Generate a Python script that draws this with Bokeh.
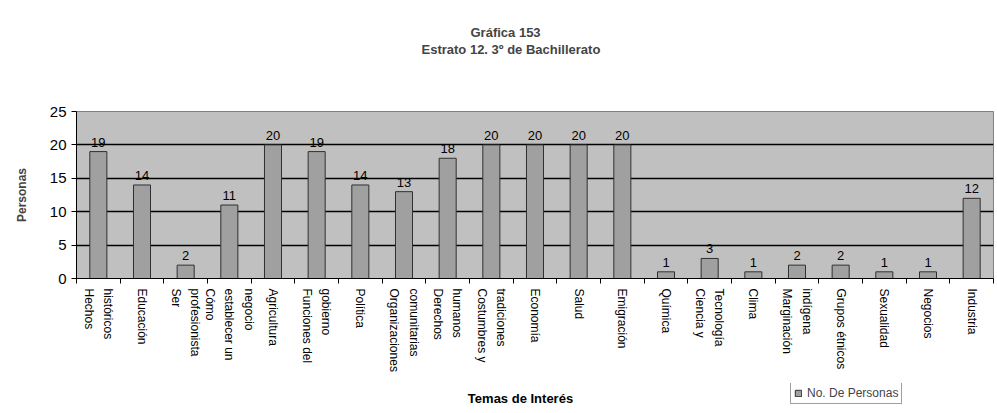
from bokeh.plotting import figure
from bokeh.layouts import column
from bokeh.models import (ColumnDataSource, Range1d, FixedTicker, LabelSet, Title, Legend,
                          LegendItem, Label)
from bokeh.core.properties import value
from bokeh.embed import file_html
from bokeh.resources import INLINE

categories = [
    "Hechos\nhistóricos", "Educación", "Ser\nprofesionista", "Cómo\nestablecer un\nnegocio",
    "Agricultura", "Funciones del\ngobierno", "Política", "Organizaciones\ncomunitarias",
    "Derechos\nhumanos", "Costumbres y\ntradiciones", "Economía", "Salud", "Emigración",
    "Química", "Ciencia y\nTecnología", "Clima", "Marginación\nindígena", "Grupos étnicos",
    "Sexualidad", "Negocios", "Industria",
]
personas = [19, 14, 2, 11, 20, 19, 14, 13, 18, 20, 20, 20, 20, 1, 3, 1, 2, 2, 1, 1, 12]
y_ticks = [0, 5, 10, 15, 20, 25]
series_name = "No. De Personas"
x_title = "Temas de Interés"
y_title = "Personas"
title_1 = "Gráfica 153"
title_2 = "Estrato 12. 3º de Bachillerato"

n = len(categories)
xs = [i + 0.5 for i in range(n)]
source = ColumnDataSource(dict(x=xs, y=personas, lbl=[str(v) for v in personas]))

FONT = "Liberation Sans"
BAR_FILL = "#a0a0a0"
BAR_LINE = "#303030"

p = figure(width=997, height=383, output_backend="svg", toolbar_location=None,
           x_range=Range1d(0, n), y_range=Range1d(0, 25),
           min_border_left=76, min_border_right=4, min_border_top=111, min_border_bottom=105)

p.background_fill_color = "#c0c0c0"
p.border_fill_color = "white"
p.outline_line_color = "#808080"
p.outline_line_width = 1

r = p.vbar(x="x", top="y", width=0.39, source=source, fill_color=BAR_FILL,
           line_color=BAR_LINE, line_width=1)

labels = LabelSet(x="x", y="y", text="lbl", source=source, y_offset=5, text_align="center",
                  text_baseline="bottom", text_font=value(FONT), text_font_size="13px",
                  text_color="black")
p.add_layout(labels)

# grid
p.xgrid.grid_line_color = None
p.ygrid.ticker = FixedTicker(ticks=y_ticks)
p.ygrid.grid_line_color = "black"
p.ygrid.grid_line_width = 1.4

# y axis
p.yaxis.ticker = FixedTicker(ticks=y_ticks)
p.yaxis.axis_label = y_title
p.yaxis.axis_label_text_font = FONT
p.yaxis.axis_label_text_font_style = "bold"
p.yaxis.axis_label_text_font_size = "12px"
p.yaxis.axis_label_standoff = 18
p.yaxis.major_label_text_font = FONT
p.yaxis.major_label_text_font_size = "15px"
p.yaxis.major_label_text_color = "black"
p.yaxis.major_tick_out = 5
p.yaxis.major_tick_in = 0
p.yaxis.minor_tick_line_color = None
p.yaxis.axis_line_color = "black"
p.yaxis.major_tick_line_color = "black"

# x axis (vertical multi-line labels: Bokeh stacks lines right-to-left, so feed them reversed)
p.xaxis.ticker = FixedTicker(ticks=xs, minor_ticks=list(range(n + 1)))
p.xaxis.major_label_overrides = {
    x: "\n".join(reversed(c.split("\n"))) for x, c in zip(xs, categories)
}
p.xaxis.major_label_orientation = "vertical"
p.xaxis.major_label_text_font = FONT
p.xaxis.major_label_text_font_size = "12px"
p.xaxis.major_label_text_line_height = 1.4
p.xaxis.major_label_text_color = "black"
p.xaxis.major_label_standoff = 4
p.xaxis.major_tick_line_color = None
p.xaxis.minor_tick_line_color = "black"
p.xaxis.minor_tick_out = 5
p.xaxis.minor_tick_in = 0
p.xaxis.axis_line_color = "black"

# titles (a blank spacer keeps them high above the frame)
spacer = Title(text=" ", text_font=FONT, text_font_size="13px", standoff=38)
t2 = Title(text=title_2, align="left", text_font=FONT,
           text_font_size="13px", text_font_style="bold", offset=345, standoff=0)
t1 = Title(text=title_1, align="left", text_font=FONT,
           text_font_size="13px", text_font_style="bold", offset=394, standoff=0)
p.title.visible = False
p.add_layout(spacer, "above")
p.add_layout(t2, "above")
p.add_layout(t1, "above")

# bottom strip: axis title and legend
p2 = figure(width=997, height=30, output_backend="svg", toolbar_location=None,
            x_range=Range1d(0, n), y_range=Range1d(100, 130), x_axis_type=None,
            y_axis_type=None, min_border=0)
p2.outline_line_color = None
p2.xgrid.visible = False
p2.ygrid.visible = False
p2.background_fill_color = "white"
p2.border_fill_color = "white"

# same bars, kept out of this strip's visible range; used only for the legend swatch
swatch = p2.vbar(x="x", top="y", width=0.39, source=source, fill_color=BAR_FILL,
                 line_color=BAR_LINE, line_width=1)

p2.add_layout(Label(x=444, y=15, x_units="screen", y_units="screen", text=x_title,
                    text_font=FONT, text_font_style="bold", text_font_size="13px",
                    text_align="center", text_baseline="middle", text_color="black"))

leg = Legend(items=[LegendItem(label=series_name, renderers=[swatch])], location=(714, 9))
leg.label_text_font = FONT
leg.label_text_font_size = "12px"
leg.glyph_width = 8
leg.glyph_height = 8
leg.label_height = 10
leg.padding = 3
leg.margin = 0
leg.spacing = 0
leg.border_line_color = "#404040"
leg.border_line_width = 1
leg.background_fill_color = "white"
p2.add_layout(leg)

layout = column(p, p2, spacing=0)

html = file_html(layout, INLINE)
open("out.html", "w").write(html)
